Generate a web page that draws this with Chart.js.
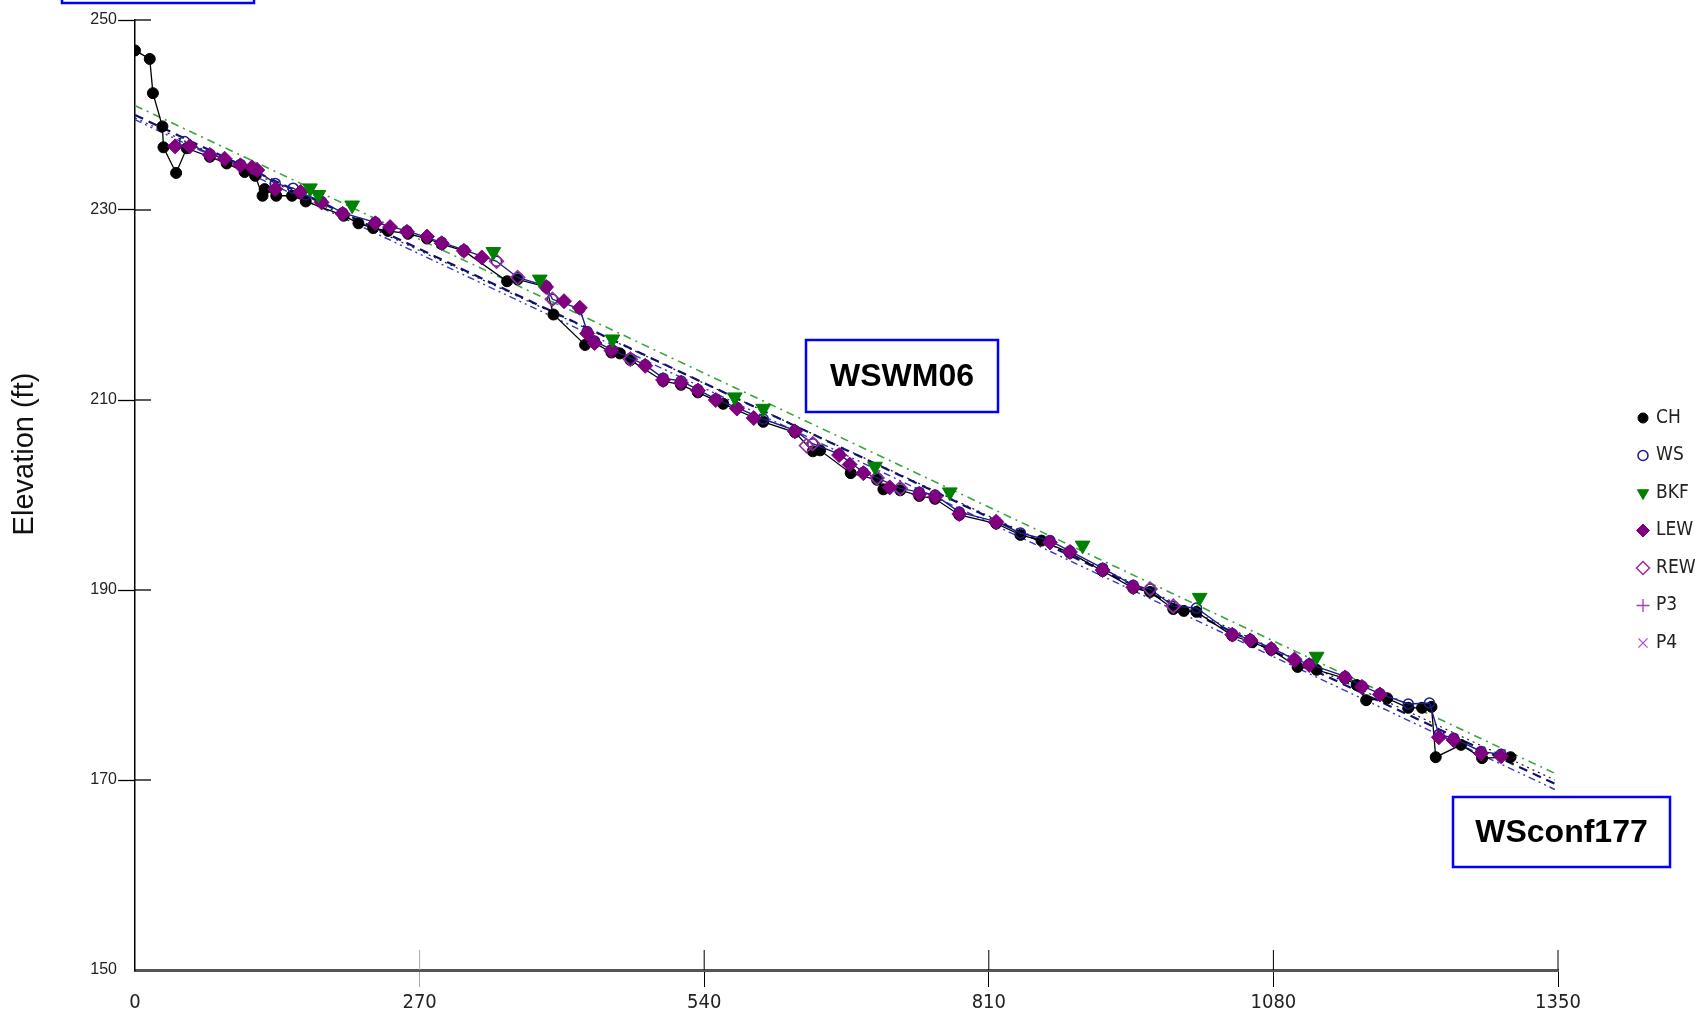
<!DOCTYPE html>
<html>
<head>
    <title>WSWM06 longitudinal profile</title>
    <script src="https://cdn.jsdelivr.net/npm/chart.js"></script>
    <style>
        body { margin: 0; background: #fff; }
        #wrap { position: relative; width: 1695px; height: 1015px; }
    </style>
</head>
<body>
    <div id="wrap"><canvas id="profileChart"></canvas></div>

    <script>
        // station (ft) and elevation (ft)
        const chX = [0, 14, 17, 26, 27, 39, 49, 71, 87, 104, 114, 121, 123, 134, 149, 162, 198, 212, 226, 240, 259, 277, 291, 312, 353, 363, 390, 397, 427, 436, 452, 460, 470, 501, 518, 534, 558, 596, 626, 643, 650, 679, 704, 710, 726, 744, 759, 782, 817, 840, 860, 887, 918, 947, 963, 985, 995, 1007, 1041, 1060, 1078, 1103, 1121, 1148, 1159, 1168, 1188, 1208, 1221, 1230, 1234, 1258, 1278, 1305];
        const chY = [246.8, 245.9, 242.3, 238.8, 236.6, 233.9, 236.5, 235.6, 234.9, 234.0, 233.6, 231.5, 232.2, 231.5, 231.5, 230.9, 229.4, 228.6, 228.1, 227.8, 227.5, 227.0, 226.4, 225.7, 222.5, 222.7, 221.9, 219.0, 215.8, 216.0, 215.0, 214.9, 214.2, 212.0, 211.6, 210.8, 209.6, 207.7, 206.6, 204.6, 204.7, 202.3, 201.6, 200.6, 200.5, 199.9, 199.6, 197.9, 197.0, 195.8, 195.2, 193.9, 192.0, 190.2, 189.8, 188.0, 187.8, 187.7, 185.2, 184.5, 183.7, 181.9, 181.6, 180.7, 180.0, 178.4, 178.6, 177.6, 177.6, 177.7, 172.4, 173.7, 172.3, 172.4];

        const wsX = [47, 71, 100, 115, 133, 150, 162, 177, 197, 228, 258, 291, 312, 343, 363, 390, 396, 422, 429, 436, 452, 470, 484, 501, 518, 534, 551, 571, 596, 626, 643, 668, 691, 704, 726, 744, 759, 782, 817, 840, 868, 887, 918, 947, 963, 985, 1007, 1041, 1058, 1078, 1100, 1114, 1148, 1164, 1181, 1208, 1228, 1237, 1251, 1277, 1296];
        const wsY = [237.2, 235.9, 234.8, 234.2, 232.8, 232.3, 231.6, 230.9, 229.7, 228.7, 227.8, 226.6, 225.8, 224.6, 222.9, 222.0, 220.6, 219.6, 217.2, 216.2, 215.3, 214.4, 213.7, 212.3, 212.0, 211.1, 210.1, 209.2, 208.0, 206.8, 205.4, 204.3, 202.4, 201.8, 200.7, 200.3, 200.0, 198.2, 197.2, 196.0, 195.2, 194.1, 192.3, 190.5, 190.1, 188.3, 188.1, 185.4, 184.8, 183.9, 182.7, 182.2, 180.9, 179.9, 179.1, 178.0, 178.1, 174.8, 174.4, 173.0, 172.7];

        const bkfX = [166, 174, 206, 340, 384, 453, 569, 596, 702, 773, 899, 1010, 1121];
        const bkfY = [232.3, 231.6, 230.5, 225.6, 222.7, 216.4, 210.3, 209.1, 203.0, 200.3, 194.7, 189.2, 183.0];

        const lewX = [38, 52, 71, 85, 100, 111, 116, 133, 157, 177, 197, 228, 242, 258, 277, 291, 312, 329, 390, 407, 422, 429, 436, 452, 484, 501, 518, 534, 551, 571, 587, 626, 668, 678, 691, 716, 744, 759, 782, 817, 868, 887, 918, 947, 1041, 1058, 1078, 1100, 1114, 1148, 1164, 1181, 1237, 1251, 1277, 1296];
        const lewY = [236.7, 236.7, 235.8, 235.4, 234.7, 234.5, 234.2, 232.2, 231.9, 230.8, 229.6, 228.6, 228.2, 227.7, 227.2, 226.5, 225.7, 225.0, 221.9, 220.4, 219.7, 217.0, 216.0, 215.2, 213.6, 212.1, 211.8, 211.0, 210.0, 209.1, 208.1, 206.7, 204.2, 203.2, 202.3, 200.8, 200.1, 199.8, 198.0, 197.1, 195.0, 194.0, 192.1, 190.3, 185.3, 184.7, 183.8, 182.6, 182.1, 180.8, 179.8, 179.0, 174.5, 174.2, 172.8, 172.5];

        const rewX = [343, 363, 396, 470, 637, 643, 704, 726, 817, 963, 985, 1100];
        const rewY = [224.6, 222.9, 220.6, 214.3, 205.2, 205.4, 201.8, 200.7, 197.2, 190.1, 188.3, 182.7];

        // fitted profile lines (end points)
        const trendX = [0, 1347];
        const bkfTrendY = [241.0, 170.7];
        const wsTrendY = [240.0, 169.6];
        const chTrendY = [239.5, 169.0];
        const lewTrendY = [239.7, 170.0];

        const xTicks = [0, 270, 540, 810, 1080, 1350];
        const yTicks = [150, 170, 190, 210, 230, 250];
        const legendNames = ['CH', 'WS', 'BKF', 'LEW', 'REW', 'P3', 'P4'];

        function pts(xs, ys) {
            return xs.map((x, i) => ({ x: x, y: ys[i] }));
        }

        const narrowFont = '"Liberation Sans Narrow", "DejaVu Sans Condensed", sans-serif';

        // ticks in the reference cross the axis line, draw the inner half
        const crossTicks = {
            id: 'crossTicks',
            beforeDatasetsDraw(chart) {
                const { ctx, chartArea, scales } = chart;
                ctx.save();
                ctx.lineWidth = 1.3;
                scales.y.ticks.forEach(t => {
                    if (t.value === 150) return;
                    const py = scales.y.getPixelForValue(t.value);
                    ctx.strokeStyle = '#000';
                    ctx.beginPath();
                    ctx.moveTo(chartArea.left, py);
                    ctx.lineTo(chartArea.left + 16, py);
                    ctx.stroke();
                });
                ctx.lineWidth = 1;
                scales.x.ticks.forEach(t => {
                    if (t.value === 0) return;
                    const px = scales.x.getPixelForValue(t.value);
                    ctx.strokeStyle = t.value === 270 ? '#aaa' : '#000';
                    ctx.beginPath();
                    ctx.moveTo(px, chartArea.bottom);
                    ctx.lineTo(px, chartArea.bottom - 20);
                    ctx.stroke();
                });
                ctx.restore();
            }
        };

        const sideLegend = {
            id: 'sideLegend',
            afterDraw(chart) {
                const ctx = chart.ctx;
                ctx.save();
                legendNames.forEach((name, i) => {
                    const ds = chart.data.datasets[i];
                    const y = 418 + i * 37.5;
                    ctx.fillStyle = ds.pointBackgroundColor;
                    ctx.strokeStyle = ds.pointBorderColor;
                    ctx.lineWidth = ds.pointBorderWidth;
                    Chart.helpers.drawPoint(ctx, {
                        pointStyle: ds.pointStyle,
                        radius: ds.pointStyle === 'circle' ? 5 : 6.5,
                        rotation: ds.pointRotation || 0,
                        borderWidth: ds.pointBorderWidth
                    }, 1643, y);
                    ctx.fillStyle = '#222';
                    ctx.font = '19px ' + narrowFont;
                    ctx.textAlign = 'left';
                    ctx.textBaseline = 'middle';
                    ctx.fillText(name, 1656, y);
                });
                ctx.restore();
            }
        };

        const labelBoxes = [
            { text: 'WSWM06', l: 806, t: 340, w: 192, h: 72 },
            { text: 'WSconf177', l: 1453, t: 797, w: 217, h: 70 },
            { text: '', l: 62, t: -60, w: 192, h: 63 }
        ];

        const annotations = {
            id: 'annotations',
            afterDraw(chart) {
                const ctx = chart.ctx;
                ctx.save();
                labelBoxes.forEach(b => {
                    ctx.fillStyle = '#fff';
                    ctx.fillRect(b.l, b.t, b.w, b.h);
                    ctx.strokeStyle = '#0000ff';
                    ctx.lineWidth = 2.5;
                    ctx.strokeRect(b.l, b.t, b.w, b.h);
                    if (b.text) {
                        ctx.fillStyle = '#000';
                        ctx.font = 'bold 32px "Liberation Sans", Arial, sans-serif';
                        ctx.textAlign = 'center';
                        ctx.textBaseline = 'middle';
                        ctx.fillText(b.text, b.l + b.w / 2, b.t + b.h / 2 + 1);
                    }
                });
                // y axis title
                ctx.translate(25, 454);
                ctx.rotate(-Math.PI / 2);
                ctx.fillStyle = '#111';
                ctx.font = '29px "Liberation Sans", Arial, sans-serif';
                ctx.textAlign = 'center';
                ctx.textBaseline = 'middle';
                ctx.fillText('Elevation (ft)', 0, 0);
                ctx.restore();
            }
        };

        function trendSet(ys, color, dash, width) {
            return {
                label: '',
                data: pts(trendX, ys),
                showLine: true,
                borderColor: color,
                borderWidth: width,
                borderDash: dash,
                pointRadius: 0,
                order: 6
            };
        }

        const ctx = document.getElementById('profileChart').getContext('2d');

        new Chart(ctx, {
            type: 'scatter',
            data: {
                datasets: [
                    {
                        label: 'CH',
                        data: pts(chX, chY),
                        showLine: true,
                        borderColor: '#000',
                        borderWidth: 1.3,
                        pointStyle: 'circle',
                        pointRadius: 5.5,
                        pointBackgroundColor: '#000',
                        pointBorderColor: '#000',
                        pointBorderWidth: 1,
                        order: 4
                    },
                    {
                        label: 'WS',
                        data: pts(wsX, wsY),
                        showLine: true,
                        borderColor: '#1c1c8c',
                        borderWidth: 1.4,
                        pointStyle: 'circle',
                        pointRadius: 5,
                        pointBackgroundColor: 'rgba(255,255,255,0)',
                        pointBorderColor: '#1c1c8c',
                        pointBorderWidth: 1.5,
                        order: 3
                    },
                    {
                        label: 'BKF',
                        data: pts(bkfX, bkfY),
                        pointStyle: 'triangle',
                        pointRotation: 180,
                        pointRadius: 8.5,
                        pointBackgroundColor: '#008000',
                        pointBorderColor: '#008000',
                        pointBorderWidth: 1,
                        order: 0
                    },
                    {
                        label: 'LEW',
                        data: pts(lewX, lewY),
                        pointStyle: 'rectRot',
                        pointRadius: 7.5,
                        pointBackgroundColor: '#800080',
                        pointBorderColor: '#800080',
                        pointBorderWidth: 1,
                        order: 1
                    },
                    {
                        label: 'REW',
                        data: pts(rewX, rewY),
                        pointStyle: 'rectRot',
                        pointRadius: 7,
                        pointBackgroundColor: 'rgba(255,255,255,0)',
                        pointBorderColor: '#9a2a9a',
                        pointBorderWidth: 1.5,
                        order: 2
                    },
                    {
                        label: 'P3',
                        data: [],
                        pointStyle: 'cross',
                        pointRadius: 6,
                        pointBackgroundColor: '#a040b0',
                        pointBorderColor: '#a040b0',
                        pointBorderWidth: 1.3
                    },
                    {
                        label: 'P4',
                        data: [],
                        pointStyle: 'crossRot',
                        pointRadius: 6,
                        pointBackgroundColor: '#b050d0',
                        pointBorderColor: '#b050d0',
                        pointBorderWidth: 1.3
                    },
                    trendSet(bkfTrendY, '#3aa63a', [8, 5, 2, 5], 1.6),
                    trendSet(wsTrendY, '#101070', [9, 6], 2.2),
                    trendSet(chTrendY, '#3838c8', [7, 4, 2, 4, 2, 4], 1.4),
                    trendSet(lewTrendY, '#202020', [2, 4], 1.2)
                ]
            },
            options: {
                responsive: true,
                maintainAspectRatio: false,
                animation: false,
                layout: { padding: { top: 20, right: 137, left: 0, bottom: 0 } },
                plugins: {
                    legend: { display: false },
                    tooltip: { enabled: false }
                },
                scales: {
                    x: {
                        type: 'linear',
                        min: 0,
                        max: 1350,
                        afterFit: s => { s.height = 45; },
                        afterBuildTicks: s => { s.ticks = xTicks.map(v => ({ value: v })); },
                        border: { color: '#555', width: 3 },
                        grid: {
                            drawOnChartArea: false,
                            tickLength: 17,
                            tickWidth: 1,
                            tickColor: c => c.tick && c.tick.value === 0 ? 'rgba(0,0,0,0)' : (c.tick && c.tick.value === 270 ? '#aaa' : '#000')
                        },
                        ticks: {
                            padding: 4,
                            color: '#222',
                            font: { family: narrowFont, size: 20 },
                            callback: v => String(v)
                        }
                    },
                    y: {
                        min: 150,
                        max: 250,
                        afterFit: s => { s.width = 135; },
                        afterBuildTicks: s => { s.ticks = yTicks.map(v => ({ value: v })); },
                        border: { color: '#000', width: 1.5 },
                        grid: {
                            drawOnChartArea: false,
                            tickLength: 17,
                            tickWidth: 1.3,
                            tickColor: c => c.tick && c.tick.value === 150 ? 'rgba(0,0,0,0)' : '#000'
                        },
                        ticks: {
                            padding: 1,
                            color: '#222',
                            font: { family: '"Liberation Sans", Arial, sans-serif', size: 16 },
                            callback: v => String(v)
                        }
                    }
                }
            },
            plugins: [crossTicks, sideLegend, annotations]
        });
    </script>
</body>
</html>
